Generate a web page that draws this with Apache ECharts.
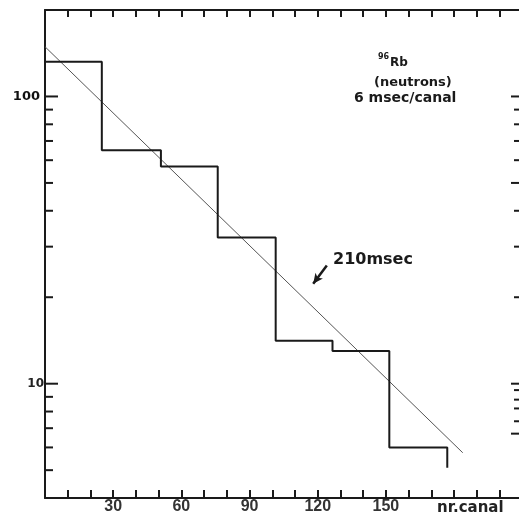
<!DOCTYPE html>
<html>
<head>
<meta charset="utf-8">
<script src="https://cdn.jsdelivr.net/npm/echarts@6/dist/echarts.min.js"></script>
<style>
  html, body { margin: 0; padding: 0; background: #fff; }
  #chart { width: 519px; height: 518px; }
</style>
</head>
<body>
<div id="chart"></div>
<script>
// histogram (counts per channel group, log scale)
const binEdges = [0, 25, 51, 76, 101.5, 126.5, 151.5, 177];
const binCounts = [132, 65, 57, 32.3, 14.1, 13.0, 6.0];
const tailCount = 5.1;

// fitted decay line
const fitX = [0, 183.8];
const fitY = [149, 5.75];

// arrow toward the fit
const arrowFrom = [124, 25.8];
const arrowTo = [118, 22.3];

const xLabels = [30, 60, 90, 120, 150];
const yLabels = [10, 100];
const leftMinorTicks = [5, 6, 7, 8, 9, 20, 30, 40, 50, 60, 70, 80, 90];
const rightMajorTicks = [100, 50, 10, 6.7];
const rightMinorTicks = [90, 80, 70, 60, 40, 30, 20, 9.5, 8.8, 8.2, 7.4];

const X_MAX = 209;
const FONT = 'Liberation Sans, Arial, sans-serif';
const WIDE = 'DejaVu Sans, sans-serif';

let histPoints = [];
binCounts.forEach((c, i) => {
  histPoints.push([binEdges[i], c]);
  histPoints.push([binEdges[i + 1], c]);
});
histPoints.push([binEdges[binEdges.length - 1], tailCount]);

function tickSeries(values, xVal, len) {
  return {
    type: 'custom',
    coordinateSystem: 'cartesian2d',
    silent: true,
    clip: false,
    data: values.map(v => [xVal, v]),
    renderItem: function (params, api) {
      const p = api.coord([api.value(0), api.value(1)]);
      return {
        type: 'line',
        shape: { x1: p[0], y1: p[1], x2: p[0] + len, y2: p[1] },
        style: { stroke: '#1a1a1a', lineWidth: 2 }
      };
    }
  };
}

const chart = echarts.init(document.getElementById('chart'));

let option = {
  animation: false,
  backgroundColor: '#fff',
  grid: { left: 45, top: 10, width: 475, height: 488, outerBoundsMode: 'none' },
  xAxis: [
    {
      type: 'value',
      min: 0,
      max: X_MAX,
      interval: 10,
      position: 'bottom',
      axisLine: { lineStyle: { color: '#1a1a1a', width: 2 } },
      axisTick: { inside: true, length: 8, lineStyle: { color: '#1a1a1a', width: 2 } },
      splitLine: { show: false },
      axisLabel: {
        margin: 1,
        color: '#333',
        fontSize: 16,
        fontWeight: 'bold',
        fontFamily: FONT,
        formatter: v => xLabels.includes(Math.round(v)) ? String(Math.round(v)) : ''
      }
    },
    {
      type: 'value',
      min: 0,
      max: X_MAX,
      interval: 10,
      position: 'top',
      axisLine: { lineStyle: { color: '#1a1a1a', width: 2 } },
      axisTick: { inside: true, length: 7, lineStyle: { color: '#1a1a1a', width: 2 } },
      splitLine: { show: false },
      axisLabel: { show: false }
    }
  ],
  yAxis: {
    type: 'log',
    logBase: 10,
    min: 4,
    max: 200,
    axisLine: { show: true, lineStyle: { color: '#1a1a1a', width: 2 } },
    axisTick: { show: false },
    splitLine: { show: false },
    minorTick: { show: false },
    axisLabel: {
      margin: 1,
      formatter: function (v) {
        const r = Math.round(v);
        if (!yLabels.includes(r)) return '';
        return r === 100 ? '{big|100}' : '{small|10}';
      },
      rich: {
        big: { fontFamily: WIDE, fontWeight: 'bold', fontSize: 13, color: '#111', padding: [0, 4, 0, 0] },
        small: { fontFamily: WIDE, fontWeight: 'bold', fontSize: 12, color: '#222' }
      }
    }
  },
  series: [
    {
      name: 'fit',
      type: 'line',
      data: fitX.map((x, i) => [x, fitY[i]]),
      symbol: 'none',
      silent: true,
      lineStyle: { color: '#555', width: 1 },
      markLine: {
        silent: true,
        symbol: ['none', 'arrow'],
        symbolSize: [7, 10],
        label: { show: false },
        lineStyle: { color: '#1a1a1a', width: 2.5, type: 'solid' },
        data: [[{ coord: arrowFrom }, { coord: arrowTo }]]
      }
    },
    {
      name: 'counts',
      type: 'line',
      data: histPoints,
      symbol: 'none',
      silent: true,
      lineStyle: { color: '#1a1a1a', width: 2 }
    },
    tickSeries([100, 10], 0, 13),
    tickSeries(leftMinorTicks, 0, 8),
    tickSeries(rightMajorTicks, X_MAX, -9),
    tickSeries(rightMinorTicks, X_MAX, -6)
  ],
  graphic: [
    { type: 'text', left: 378, top: 53, style: { text: '96', font: 'bold 8px ' + WIDE, fill: '#1a1a1a' } },
    { type: 'text', left: 390, top: 57, style: { text: 'Rb', font: 'bold 12px ' + WIDE, fill: '#1a1a1a' } },
    { type: 'text', left: 374, top: 76, style: { text: '(neutrons)', font: 'bold 13px ' + WIDE, fill: '#1a1a1a' } },
    { type: 'text', left: 354, top: 91, style: { text: '6 msec/canal', font: 'bold 14px ' + WIDE, fill: '#1a1a1a' } },
    { type: 'text', left: 333, top: 252, style: { text: '210msec', font: 'bold 16px ' + WIDE, fill: '#1a1a1a' } },
    { type: 'text', left: 437, top: 501, style: { text: 'nr.canal', font: 'bold 15px ' + WIDE, fill: '#222' } }
  ]
};

chart.setOption(option);
</script>
</body>
</html>
